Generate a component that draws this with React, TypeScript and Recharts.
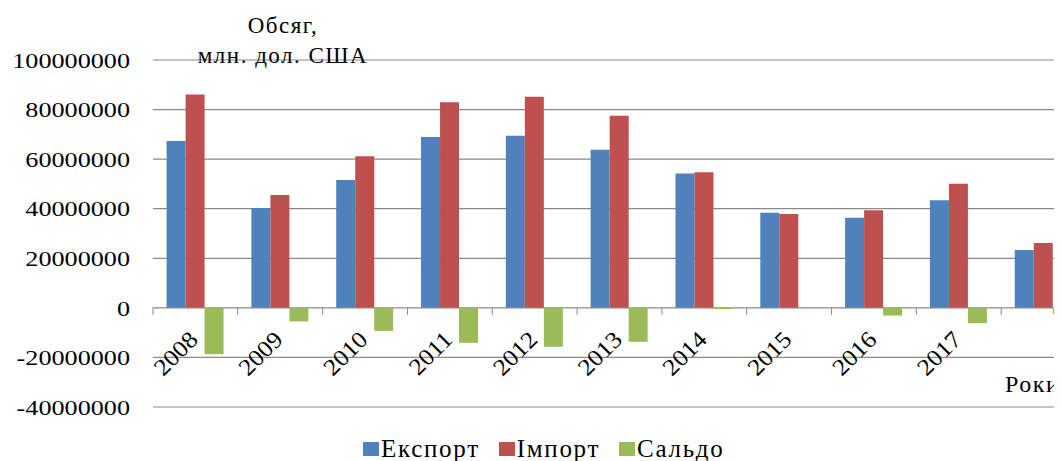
import React from 'react';
import { BarChart, Bar, XAxis, YAxis, CartesianGrid, Legend } from 'recharts';

// Обсяг зовнішньої торгівлі, млн. дол. США
const years = ['2008', '2009', '2010', '2011', '2012', '2013', '2014', '2015', '2016', '2017', '2018'];
const exportVals = [67300000, 40300000, 51600000, 68900000, 69400000, 63800000, 54200000, 38400000, 36400000, 43400000, 23300000];
const importVals = [86100000, 45500000, 61200000, 83000000, 85200000, 77500000, 54700000, 37900000, 39400000, 50100000, 26200000];
const saldoVals = [-18700000, -5500000, -9300000, -14100000, -15700000, -13700000, -500000, 300000, -3100000, -6200000, -2500000];
const yTicks = [-40000000, -20000000, 0, 20000000, 40000000, 60000000, 80000000, 100000000];

const seriesNames = ['Експорт', 'Імпорт', 'Сальдо'];
const seriesColors = ['#4f81bd', '#c0504d', '#9bbb59'];

const data = years.map((y, i) => ({ year: y, exp: exportVals[i], imp: importVals[i], sal: saldoVals[i] }));

const FONT = '"Liberation Serif", "Times New Roman", serif';
const GRID = '#8a8a8a';
const W = 1090, H = 453;
const M = { top: 52, right: 12, left: 0, bottom: 0 };
const Y_AXIS_W = 145;
const X_AXIS_H = 30, LEGEND_H = 24;
const PLOT_H = H - M.top - M.bottom - X_AXIS_H - LEGEND_H;
const PLOT_W = W - M.left - M.right - Y_AXIS_W;
const BAND = PLOT_W / years.length;
const Y_MIN = yTicks[0], Y_MAX = yTicks[yTicks.length - 1];
// x axis crosses at zero, as in the original Excel chart
const ZERO_Y = M.top + PLOT_H * (Y_MAX / (Y_MAX - Y_MIN));

const YTick = (props: any) => {
  const { x, y, payload } = props;
  return (
    <text transform={`translate(${x - 23},${y}) scale(1.19,1)`} textAnchor="end" dy="0.35em"
      fontSize={22} fontFamily={FONT} fill="#000">
      {String(payload.value)}
    </text>
  );
};

const XTick = (props: any) => {
  const { x, index, payload } = props;
  const left = x - BAND / 2;
  const last = index === years.length - 1;
  return (
    <g>
      <line x1={left} x2={left} y1={ZERO_Y} y2={ZERO_Y + 7} stroke={GRID} />
      {last && <line x1={left + BAND} x2={left + BAND} y1={ZERO_Y} y2={ZERO_Y + 7} stroke={GRID} />}
      {/* last label falls outside the cropped picture */}
      {!last && (
        <text transform={`translate(${x + 4},${ZERO_Y + 33}) rotate(-45) scale(1.09,1)`} textAnchor="end"
          fontSize={23.5} fontFamily={FONT} fill="#000">
          {payload.value}
        </text>
      )}
    </g>
  );
};

const LegendBox = () => (
  <div style={{ display: 'flex', alignItems: 'center', height: LEGEND_H, fontFamily: FONT, fontSize: 25, letterSpacing: 1.7, color: '#000', whiteSpace: 'nowrap' }}>
    {seriesNames.map((n, i) => (
      <div key={n} style={{ display: 'flex', alignItems: 'center', marginRight: i < seriesNames.length - 1 ? 19 : 0 }}>
        <span style={{ display: 'inline-block', width: 16, height: 14, background: seriesColors[i], marginRight: 2 }} />
        <span style={{ lineHeight: '24px' }}>{n}</span>
      </div>
    ))}
  </div>
);

export default function App() {
  return (
    <div style={{ position: 'relative', width: 1054, height: 453, overflow: 'hidden', fontFamily: FONT, background: '#fff' }}>
      <style>{'body{overflow:hidden}'}</style>
      <BarChart width={W} height={H} data={data} margin={M} barCategoryGap="16%" barGap={0}>
        <CartesianGrid vertical={false} stroke={GRID} strokeWidth={1.2} />
        <XAxis dataKey="year" height={X_AXIS_H} axisLine={false} tickLine={false} interval={0} tick={<XTick />} />
        <YAxis width={Y_AXIS_W} domain={[Y_MIN, Y_MAX]} ticks={yTicks} interval={0} axisLine={false} tickLine={false}
          tickSize={0} tickMargin={0} tick={<YTick />} />
        <Legend verticalAlign="bottom" height={LEGEND_H} wrapperStyle={{ left: 355, bottom: 0, width: 'auto' }} content={() => <LegendBox />} />
        <Bar dataKey="exp" name={seriesNames[0]} fill={seriesColors[0]} isAnimationActive={false} />
        <Bar dataKey="imp" name={seriesNames[1]} fill={seriesColors[1]} isAnimationActive={false} />
        <Bar dataKey="sal" name={seriesNames[2]} fill={seriesColors[2]} isAnimationActive={false} />
      </BarChart>
      <div style={{ position: 'absolute', left: 175, top: 3, width: 200, textAlign: 'center', fontSize: 23, lineHeight: '30px', letterSpacing: 1.5, color: '#000' }}>
        Обсяг,<br />млн. дол. США
      </div>
      <div style={{ position: 'absolute', left: 997, top: 364, fontSize: 24, lineHeight: '24px', letterSpacing: 1.5, color: '#000', whiteSpace: 'nowrap' }}>
        Роки
      </div>
    </div>
  );
}
